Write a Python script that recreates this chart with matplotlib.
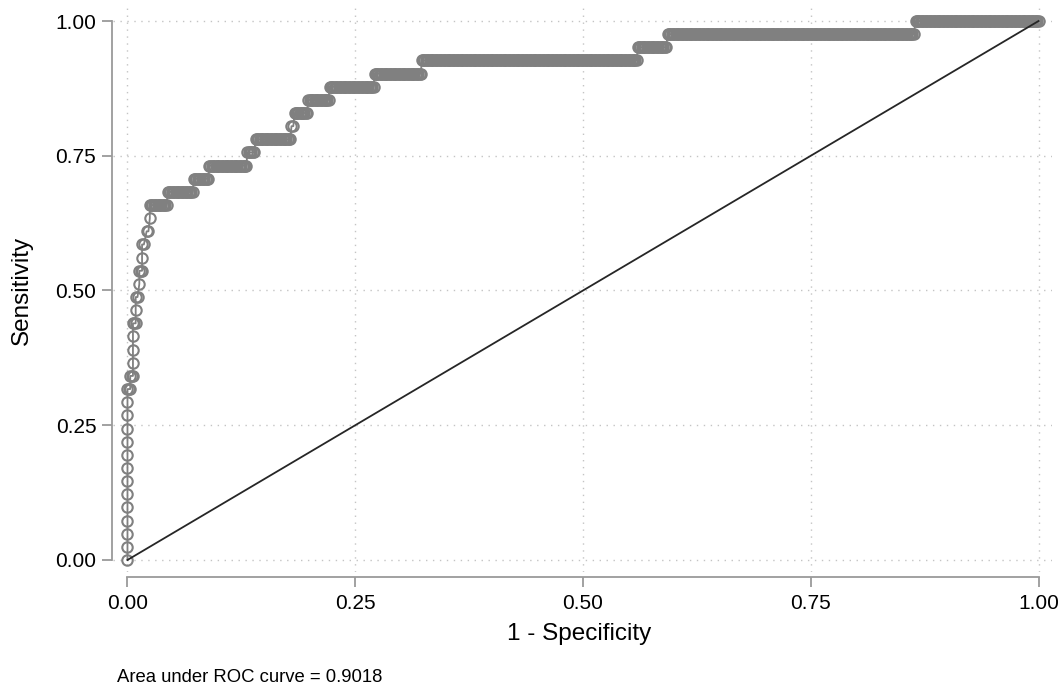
import numpy as np
import matplotlib
matplotlib.use('Agg')
import matplotlib.pyplot as plt

plt.rcParams['font.family'] = ['Liberation Sans', 'DejaVu Sans']

# ROC data: one row per sensitivity level (k / 41 positives),
# with the 1 - specificity range covered at that level
n_pos = 41
n_neg = 700
sens_count = list(range(42))
fpr_lo = [0, 0, 0, 0, 0, 0, 0, 0, 0, 0, 0, 0, 0,
          0.000, 0.003, 0.006, 0.006, 0.006, 0.006, 0.009, 0.009, 0.013,
          0.013, 0.016, 0.016, 0.021, 0.0245, 0.0245, 0.044, 0.0727, 0.0896,
          0.1316, 0.1407, 0.180, 0.1834, 0.1985, 0.2218, 0.2712, 0.323,
          0.560, 0.593, 0.865]
fpr_hi = [0, 0, 0, 0, 0, 0, 0, 0, 0, 0, 0, 0, 0,
          0.003, 0.006, 0.006, 0.006, 0.006, 0.009, 0.009, 0.011, 0.013,
          0.016, 0.016, 0.018, 0.023, 0.0245, 0.043, 0.0716, 0.0888, 0.1305,
          0.139, 0.1787, 0.182, 0.197, 0.2207, 0.2701, 0.322, 0.559,
          0.591, 0.863, 1.0]
ticks = [0.0, 0.25, 0.5, 0.75, 1.0]
tick_labels = ['0.00', '0.25', '0.50', '0.75', '1.00']
auc_text = 'Area under ROC curve = 0.9018'

# expand each level into one point per negative case
xs, ys = [], []
for k, lo, hi in zip(sens_count, fpr_lo, fpr_hi):
    n = int(round((hi - lo) * n_neg)) + 1
    xs.extend(np.linspace(lo, hi, n))
    ys.extend([k / n_pos] * n)

fig = plt.figure(figsize=(10.63, 6.86), dpi=100)
ax = fig.add_axes([0.1063, 0.1662, 0.8834, 0.8265])

ax.plot(xs, ys, color='#808080', lw=1.3, marker='o', mfc='none',
        mec='#808080', ms=7.5, mew=1.5, zorder=3)
ax.plot([0, 1], [0, 1], color='#262626', lw=1.3, zorder=4)

ax.set_xlim(-0.0159, 1.0148)
ax.set_ylim(-0.0223, 1.0297)
ax.set_xticks(ticks)
ax.set_xticklabels(tick_labels)
ax.set_yticks(ticks)
ax.set_yticklabels(tick_labels)

ax.grid(True, color='#c4c4c4', linestyle=(0, (1, 4)), lw=1.0)
ax.set_axisbelow(True)

for side in ['top', 'right']:
    ax.spines[side].set_visible(False)
ax.spines['left'].set_bounds(0, 1)
ax.spines['bottom'].set_bounds(0, 1)
ax.spines['left'].set_position(('outward', 1))
ax.spines['bottom'].set_position(('outward', 3.5))
for side in ['left', 'bottom']:
    ax.spines[side].set_color('#9a9a9a')
    ax.spines[side].set_linewidth(1.3)
ax.tick_params(axis='both', colors='#9a9a9a', length=7, width=1.3,
               labelcolor='black', labelsize=15)
ax.tick_params(axis='x', pad=5)
ax.tick_params(axis='y', pad=4)

ax.set_xlabel('1 - Specificity', fontsize=17.5)
ax.set_ylabel('Sensitivity', fontsize=17.5)
ax.xaxis.label.set_va('center')
ax.yaxis.label.set_va('center')
ax.xaxis.set_label_coords(0.4966, -0.1093)
ax.yaxis.set_label_coords(-0.0969, 0.497)

fig.text(117 / 1063, 1 - 678 / 686, auc_text, fontsize=13.3,
         ha='left', va='center')

fig.savefig('out.png', dpi=100)
